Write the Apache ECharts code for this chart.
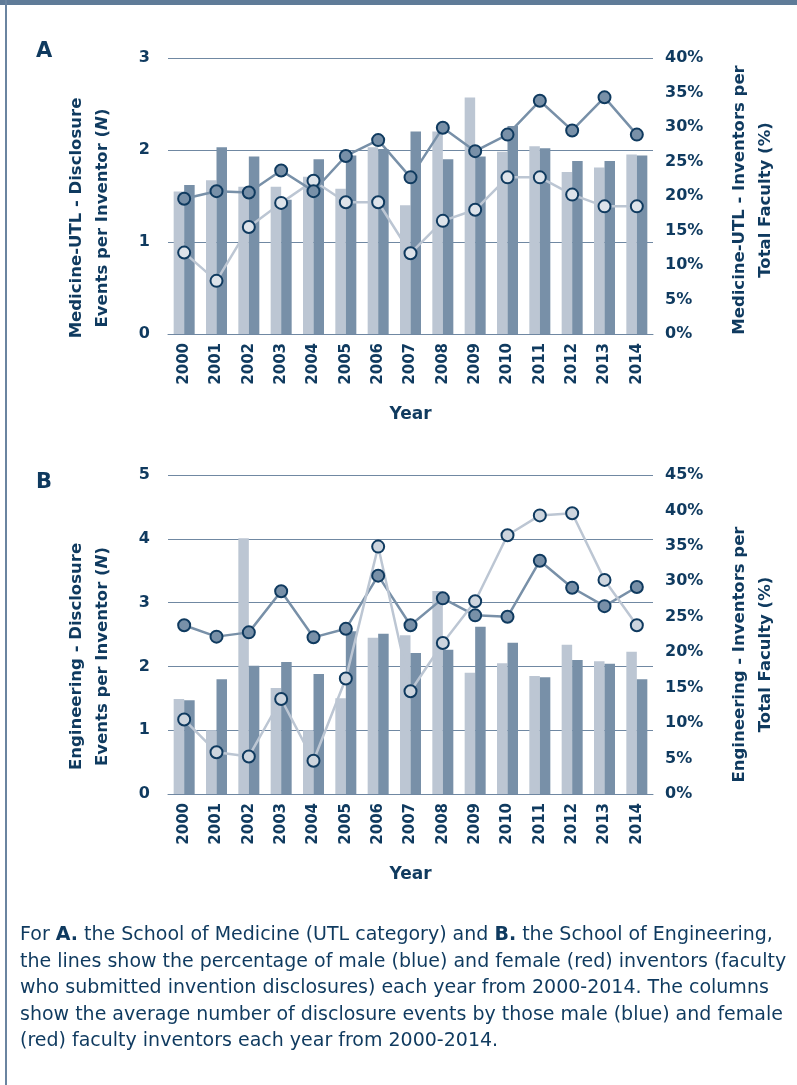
<!DOCTYPE html>
<html>
<head>
<meta charset="utf-8">
<script src="https://cdn.jsdelivr.net/npm/echarts@6/dist/echarts.min.js"></script>
<style>
  html, body { margin: 0; padding: 0; background: #fff; }
  #main { width: 797px; height: 1085px; }
</style>
</head>
<body>
<div id="main"></div>
<script>
var years = ['2000', '2001', '2002', '2003', '2004', '2005', '2006', '2007',
  '2008', '2009', '2010', '2011', '2012', '2013', '2014'];

// A - Medicine-UTL
var medFemaleEvents = [1.55, 1.67, 1.60, 1.60, 1.71, 1.58, 2.03, 1.40, 2.20, 2.57, 1.98, 2.04, 1.76, 1.81, 1.95];
var medMaleEvents = [1.62, 2.03, 1.93, 1.46, 1.90, 1.94, 2.01, 2.20, 1.90, 1.93, 2.26, 2.02, 1.88, 1.88, 1.94];
var medMalePct = [19.6, 20.7, 20.5, 23.7, 20.7, 25.8, 28.1, 22.7, 29.9, 26.5, 28.9, 33.8, 29.5, 34.3, 28.9];
var medFemalePct = [11.8, 7.7, 15.5, 19.0, 22.2, 19.1, 19.1, 11.7, 16.4, 18.0, 22.7, 22.7, 20.2, 18.5, 18.5];

// B - Engineering
var engFemaleEvents = [1.49, 1.00, 4.01, 1.66, 1.00, 1.50, 2.45, 2.49, 3.18, 1.90, 2.05, 1.85, 2.34, 2.08, 2.23];
var engMaleEvents = [1.47, 1.80, 2.01, 2.07, 1.88, 2.55, 2.51, 2.21, 2.26, 2.62, 2.37, 1.83, 2.10, 2.04, 1.80];
var engMalePct = [23.8, 22.2, 22.8, 28.6, 22.1, 23.3, 30.8, 23.8, 27.6, 25.2, 25.0, 32.9, 29.1, 26.5, 29.2];
var engFemalePct = [10.5, 5.9, 5.3, 13.4, 4.7, 16.3, 34.9, 14.5, 21.3, 27.2, 36.5, 39.3, 39.6, 30.2, 23.8];

var navy = '#0f3a5f';
var lightC = '#bcc6d3';
var darkC = '#7890a8';
var gridC = '#7088a2';
var fontAx = 'DejaVu Sans';

var chart = echarts.init(document.getElementById('main'));

function xAx(gi) {
  return {
    type: 'category', gridIndex: gi, data: years,
    axisLine: { lineStyle: { color: gridC, width: 1 } },
    axisTick: { show: false },
    axisLabel: { rotate: 90, margin: 9, color: navy, fontSize: 15, fontWeight: 'bold', fontFamily: fontAx },
    name: 'Year', nameLocation: 'middle', nameGap: 72,
    nameTextStyle: { color: navy, fontSize: 17, fontWeight: 'bold', fontFamily: fontAx }
  };
}
// shift moves the rotated name down the page (px)
function leftAx(gi, max, name, shift) {
  return {
    type: 'value', gridIndex: gi, min: 0, max: max, interval: 1,
    axisLine: { show: false }, axisTick: { show: false },
    splitLine: { lineStyle: { color: gridC, width: 1 } },
    axisLabel: { margin: 18, color: navy, fontSize: 16, fontWeight: 'bold', fontFamily: fontAx },
    name: name, nameLocation: 'middle', nameRotate: 90, nameGap: 52,
    nameTextStyle: {
      color: navy, fontSize: 16.5, fontWeight: 'bold', fontFamily: fontAx, lineHeight: 26,
      padding: [0, shift * 2, 0, 0],
      rich: { i: { fontStyle: 'italic', color: navy, fontSize: 16.5, fontWeight: 'bold', fontFamily: fontAx, lineHeight: 26 } }
    }
  };
}
function rightAx(gi, max, name, shift) {
  return {
    type: 'value', gridIndex: gi, min: 0, max: max, interval: 5, position: 'right',
    axisLine: { show: false }, axisTick: { show: false }, splitLine: { show: false },
    axisLabel: { margin: 12, color: navy, fontSize: 16, fontWeight: 'bold', fontFamily: fontAx, formatter: '{value}%' },
    name: name, nameLocation: 'middle', nameRotate: 90, nameGap: 74,
    nameTextStyle: { color: navy, fontSize: 16.5, fontWeight: 'bold', fontFamily: fontAx, lineHeight: 26,
      padding: [0, shift * 2, 0, 0] }
  };
}
function bar(name, data, color, xi, yi) {
  return { name: name, type: 'bar', xAxisIndex: xi, yAxisIndex: yi, data: data,
    barWidth: 10.5, barGap: '0%', itemStyle: { color: color }, z: 2 };
}
function line(name, data, color, fill, xi, yi) {
  return { name: name, type: 'line', xAxisIndex: xi, yAxisIndex: yi, data: data,
    symbol: 'circle', symbolSize: 12,
    lineStyle: { color: color, width: 2.5 },
    itemStyle: { color: fill, borderColor: navy, borderWidth: 2 }, z: 3 };
}

var caption = [
  'For {b|A.} the School of Medicine (UTL category) and {b|B.} the School of Engineering,',
  'the lines show the percentage of male (blue) and female (red) inventors (faculty',
  'who submitted invention disclosures) each year from 2000-2014. The columns',
  'show the average number of disclosure events by those male (blue) and female',
  '(red) faculty inventors each year from 2000-2014.'
];
var capFont = 'DejaVu Sans';
var graphics = [
  { type: 'rect', shape: { x: 0, y: 0, width: 797, height: 5 }, style: { fill: '#5f7b98' } },
  { type: 'rect', shape: { x: 5, y: 0, width: 2, height: 1085 }, style: { fill: '#6a84a0' } },
  { type: 'text', left: 36, top: 41, style: { text: 'A', fill: navy, fontSize: 21, fontWeight: 'bold', fontFamily: fontAx } },
  { type: 'text', left: 36, top: 472, style: { text: 'B', fill: navy, fontSize: 21, fontWeight: 'bold', fontFamily: fontAx } }
];
caption.forEach(function (t, i) {
  graphics.push({
    type: 'text', left: 20, top: 926 + i * 26.5,
    style: {
      text: t, fill: navy, fontSize: 19, fontFamily: capFont,
      rich: { b: { fontWeight: 'bold', fontSize: 19, fontFamily: capFont, fill: navy } }
    }
  });
});

chart.setOption({
  animation: false,
  backgroundColor: '#fff',
  grid: [
    { left: 168, width: 485, top: 58, height: 276 },
    { left: 168, width: 485, top: 475, height: 319 }
  ],
  xAxis: [xAx(0), xAx(1)],
  yAxis: [
    leftAx(0, 3, 'Medicine-UTL - Disclosure\nEvents per Inventor ({i|N})', 22),
    rightAx(0, 40, 'Medicine-UTL - Inventors per\nTotal Faculty (%)', 4),
    leftAx(1, 5, 'Engineering - Disclosure\nEvents per Inventor ({i|N})', 22),
    rightAx(1, 45, 'Engineering - Inventors per\nTotal Faculty (%)', 20)
  ],
  series: [
    bar('Female events A', medFemaleEvents, lightC, 0, 0),
    bar('Male events A', medMaleEvents, darkC, 0, 0),
    line('Female % A', medFemalePct, lightC, '#dde3ea', 0, 1),
    line('Male % A', medMalePct, darkC, darkC, 0, 1),
    bar('Female events B', engFemaleEvents, lightC, 1, 2),
    bar('Male events B', engMaleEvents, darkC, 1, 2),
    line('Male % B', engMalePct, darkC, darkC, 1, 3),
    line('Female % B', engFemalePct, lightC, '#cdd5de', 1, 3)
  ],
  graphic: graphics
});
</script>
</body>
</html>
